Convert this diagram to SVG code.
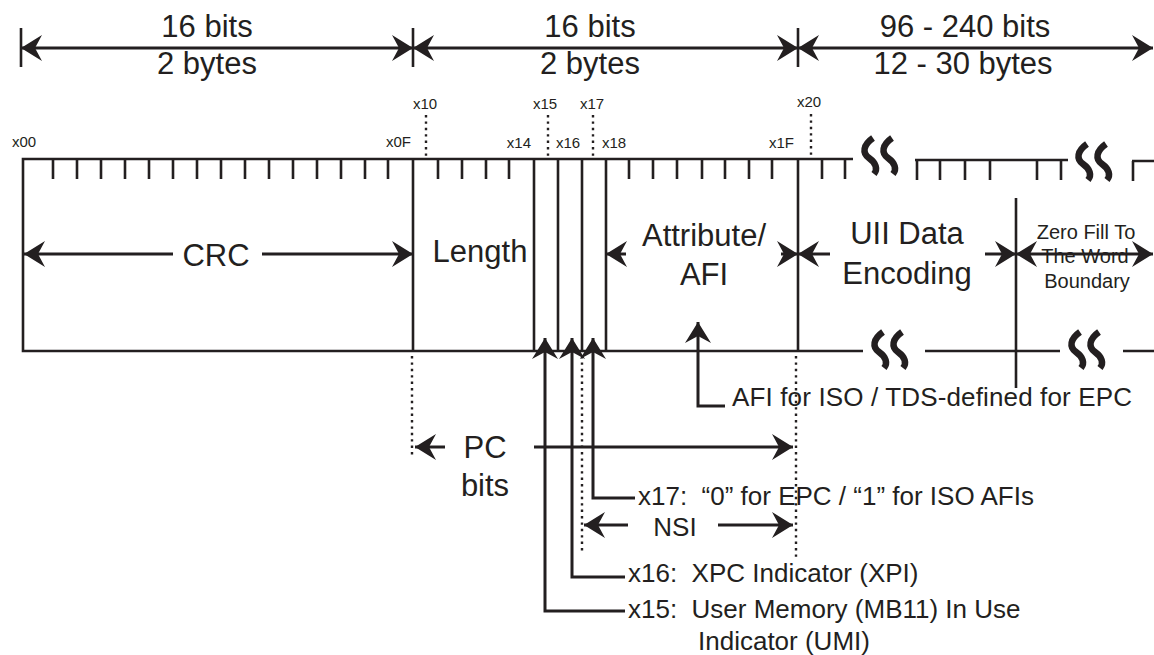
<svg xmlns="http://www.w3.org/2000/svg" width="1154" height="655" viewBox="0 0 1154 655">
<style>
.ln{stroke:#231f20;stroke-width:2.6;fill:none}
.tk{stroke:#231f20;stroke-width:2.6}
.ar{stroke:#231f20;stroke-width:3;fill:none}
.dot{stroke:#231f20;stroke-width:2.4;stroke-dasharray:2.4 4;fill:none}
.sq{stroke:#231f20;stroke-width:6.5;fill:none;stroke-linecap:butt}
text{font-family:"Liberation Sans",Arial,Helvetica,sans-serif;fill:#231f20;white-space:pre}
.big{font-size:31px}
.sm{font-size:15px}
.md{font-size:26px}
.zf{font-size:20px}
.c{text-anchor:middle}
.e{text-anchor:end}
</style>
<defs>
<marker id="ah" viewBox="0 0 21 26" refX="21" refY="13" markerWidth="21" markerHeight="26" markerUnits="userSpaceOnUse" orient="auto-start-reverse">
<path d="M0,0 L21,13 L0,26 L7,13 z" fill="#231f20"/>
</marker>
<g id="sq">
<path class="sq" d="M11,1 C1,8 0,16 7,21 C14,26 16,32 12,37"/>
<path class="sq" d="M30,1 C20,8 19,16 26,21 C33,26 35,32 31,37"/>
</g>
</defs>

<g id="dimensions">
<line class="tk" x1="21" y1="28" x2="21" y2="67"/>
<line class="tk" x1="413" y1="28" x2="413" y2="67"/>
<line class="tk" x1="798" y1="28" x2="798" y2="67"/>
<text class="big c" x="207" y="37">16 bits</text>
<text class="big c" x="207" y="74">2 bytes</text>
<text class="big c" x="590" y="37">16 bits</text>
<text class="big c" x="590" y="74">2 bytes</text>
<text class="big c" x="965" y="37">96 - 240 bits</text>
<text class="big c" x="963" y="74">12 - 30 bytes</text>
</g>

<g id="bit-labels">
<text class="sm" x="12" y="147">x00</text>
<text class="sm e" x="411" y="147">x0F</text>
<text class="sm" x="413" y="109">x10</text>
<text class="sm e" x="531" y="148">x14</text>
<text class="sm" x="533" y="109">x15</text>
<text class="sm" x="556" y="148">x16</text>
<text class="sm" x="580" y="109">x17</text>
<text class="sm" x="602" y="148">x18</text>
<text class="sm e" x="794" y="148">x1F</text>
<text class="sm" x="797" y="107">x20</text>
<path class="dot" d="M426,115 V156 M548,115 V156 M593,115 V156 M811,114 V156"/>
</g>

<g id="frame">
<path class="ln" d="M853,159 H23 V351 H863"/>
<path class="ln" d="M925,351 H1060 M1123,351 H1154"/>
<path class="ln" d="M915,160 H1068 M1132,161 H1154"/>
<path class="tk" d="M53,159 V179 M77,159 V179 M101,159 V179 M125,159 V179 M149,159 V179 M173,159 V179 M197,159 V179 M221,159 V179 M245,159 V179 M269,159 V179 M293,159 V179 M317,159 V179 M341,159 V179 M365,159 V179 M388,159 V179"/>
<path class="tk" d="M438,159 V179 M462,159 V179 M486,159 V179 M509,159 V179 M629,159 V179 M653,159 V179 M677,159 V179 M702,159 V179 M725,159 V179 M749,159 V179 M772,159 V179 M822,159 V179 M845,159 V179"/>
<path class="tk" d="M917,160 V180 M940,160 V180 M965,160 V180 M990,160 V180 M1037,160 V180 M1061,160 V180 M1133,161 V181"/>
<use href="#sq" x="862" y="137"/>
<use href="#sq" x="1076" y="143"/>
<use href="#sq" x="872" y="331"/>
<use href="#sq" x="1069" y="331"/>
</g>

<g id="crc">
<line class="ln" x1="413" y1="159" x2="413" y2="351"/>
<text class="big c" x="216" y="266">CRC</text>
</g>
<g id="length">
<line class="ln" x1="534" y1="159" x2="534" y2="351"/>
<text class="big c" x="480" y="262">Length</text>
</g>
<g id="bit-x15"><line class="ln" x1="558" y1="159" x2="558" y2="351"/></g>
<g id="bit-x16"><line class="ln" x1="582" y1="159" x2="582" y2="351"/></g>
<g id="bit-x17"><line class="ln" x1="606" y1="159" x2="606" y2="351"/></g>
<g id="attribute-afi">
<line class="ln" x1="798" y1="159" x2="798" y2="351"/>
<text class="big c" x="704" y="246">Attribute/</text>
<text class="big c" x="704" y="285">AFI</text>
</g>
<g id="uii">
<text class="big c" x="907" y="244">UII Data</text>
<text class="big c" x="907" y="284">Encoding</text>
</g>
<g id="zero-fill">
<line class="ln" x1="1016" y1="198" x2="1016" y2="388"/>
<text class="zf c" x="1086" y="239">Zero Fill To</text>
<text class="zf c" x="1085" y="263">The Word</text>
<text class="zf c" x="1087" y="288">Boundary</text>
</g>

<g id="pc-bits">
<path class="dot" d="M412,356 V458 M582,356 V552 M796,356 V557"/>
<text class="big c" x="485" y="458">PC</text>
<text class="big c" x="485" y="496">bits</text>
<text class="md c" x="675" y="536">NSI</text>
</g>

<g id="notes">
<text class="md" x="732" y="406" textLength="400">AFI for ISO / TDS-defined for EPC</text>
<text class="md" x="638" y="505">x17:  “0” for EPC / “1” for ISO AFIs</text>
<text class="md" x="628" y="582">x16:  XPC Indicator (XPI)</text>
<text class="md" x="628" y="618">x15:  User Memory (MB11) In Use</text>
<text class="md" x="698" y="650">Indicator (UMI)</text>
</g>

<g id="connectors">
<line class="ar" x1="21" y1="48" x2="413" y2="48" marker-start="url(#ah)" marker-end="url(#ah)"/>
<line class="ar" x1="413" y1="48" x2="798" y2="48" marker-start="url(#ah)" marker-end="url(#ah)"/>
<line class="ar" x1="798" y1="48" x2="1153" y2="48" marker-start="url(#ah)" marker-end="url(#ah)"/>
<line class="ar" x1="173" y1="254" x2="24" y2="254" marker-end="url(#ah)"/>
<line class="ar" x1="262" y1="254" x2="413" y2="254" marker-end="url(#ah)"/>
<line class="ar" x1="626" y1="254" x2="606" y2="254" marker-end="url(#ah)"/>
<line class="ar" x1="781" y1="254" x2="798" y2="254" marker-end="url(#ah)"/>
<line class="ar" x1="830" y1="254" x2="798" y2="254" marker-end="url(#ah)"/>
<line class="ar" x1="985" y1="254" x2="1016" y2="254" marker-end="url(#ah)"/>
<line class="ar" x1="1016" y1="254" x2="1153" y2="254" marker-start="url(#ah)" marker-end="url(#ah)"/>
<path class="ar" d="M725,406 H698 V322" marker-end="url(#ah)"/>
<path class="ar" d="M635,498 H593 V338" marker-end="url(#ah)"/>
<path class="ar" d="M625,577 H572 V338" marker-end="url(#ah)"/>
<path class="ar" d="M625,611 H545 V338" marker-end="url(#ah)"/>
<line class="ar" x1="445" y1="447" x2="415" y2="447" marker-end="url(#ah)"/>
<line class="ar" x1="534" y1="447" x2="793" y2="447" marker-end="url(#ah)"/>
<line class="ar" x1="628" y1="525" x2="584" y2="525" marker-end="url(#ah)"/>
<line class="ar" x1="718" y1="525" x2="793" y2="525" marker-end="url(#ah)"/>
</g>
</svg>
